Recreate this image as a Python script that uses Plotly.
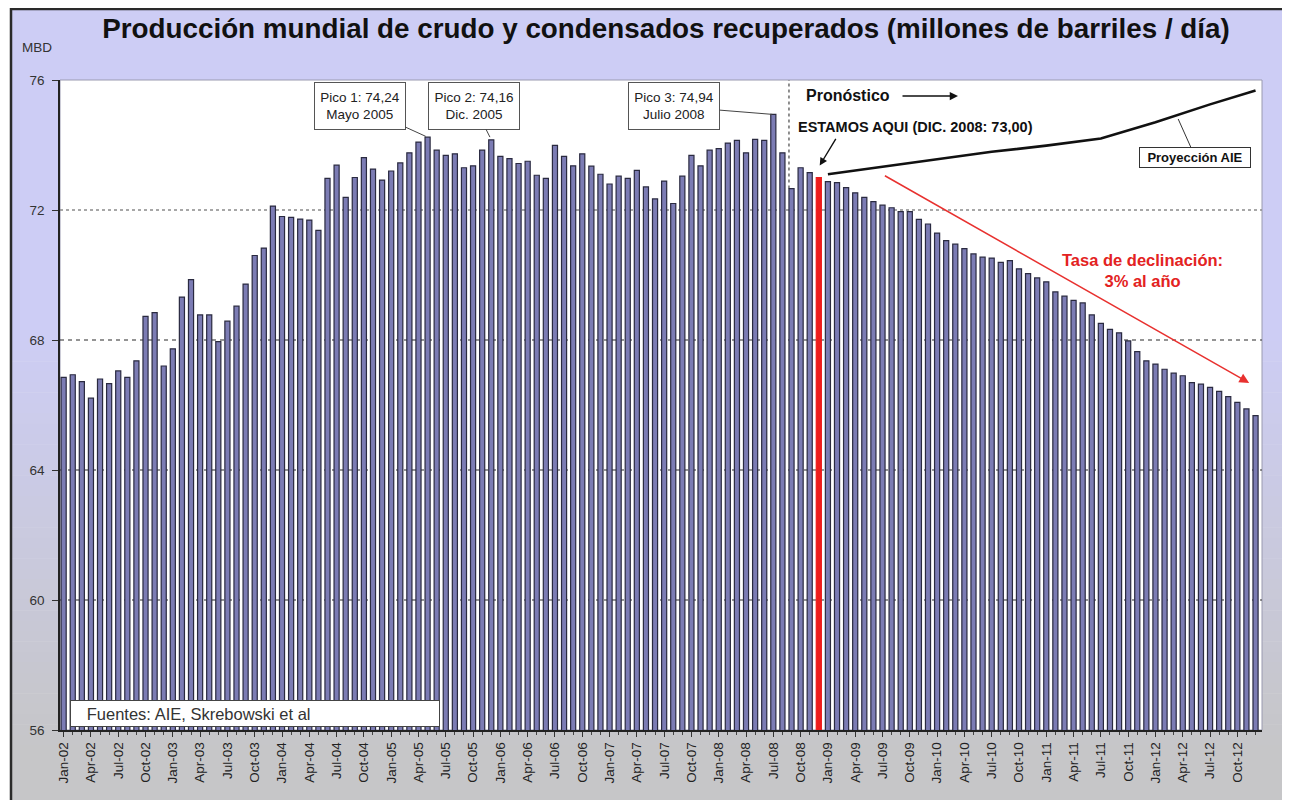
import plotly.graph_objects as go

# ---------------- data ----------------
years = ["02", "03", "04", "05", "06", "07", "08", "09", "10", "11", "12"]
tick_months = ["Jan", "Apr", "Jul", "Oct"]
tick_labels = [f"{m}-{y}" for y in years for m in tick_months]

production = [
    # 2002
    66.85, 66.93, 66.72, 66.21, 66.80, 66.66, 67.05, 66.85, 67.36, 68.73, 68.84, 67.20,
    # 2003
    67.73, 69.32, 69.86, 68.77, 68.77, 67.95, 68.58, 69.04, 69.72, 70.60, 70.83, 72.12,
    # 2004
    71.80, 71.77, 71.72, 71.69, 71.37, 72.97, 73.38, 72.39, 73.00, 73.61, 73.26, 72.92,
    # 2005
    73.20, 73.45, 73.76, 74.09, 74.24, 73.84, 73.68, 73.73, 73.30, 73.36, 73.84, 74.16,
    # 2006
    73.65, 73.58, 73.43, 73.50, 73.07, 72.97, 73.99, 73.65, 73.36, 73.73, 73.35, 73.10,
    # 2007
    72.80, 73.04, 72.97, 73.22, 72.71, 72.34, 72.89, 72.20, 73.04, 73.68, 73.36, 73.84,
    # 2008
    73.89, 74.06, 74.14, 73.76, 74.17, 74.14, 74.94, 73.76, 72.66, 73.30, 73.15, 73.00,
    # 2009 (pronóstico)
    72.87, 72.84, 72.69, 72.53, 72.39, 72.26, 72.15, 72.07, 71.95, 71.95, 71.71, 71.57,
    # 2010
    71.29, 71.06, 70.95, 70.81, 70.65, 70.55, 70.52, 70.39, 70.44, 70.19, 70.04, 69.91,
    # 2011
    69.79, 69.48, 69.35, 69.22, 69.14, 68.77, 68.51, 68.33, 68.22, 67.97, 67.64, 67.36,
    # 2012
    67.26, 67.10, 66.98, 66.90, 66.69, 66.64, 66.54, 66.42, 66.26, 66.08, 65.88, 65.67,
]

# IEA projection line (month index, value)
proj_month = [84, 90, 96, 102, 108, 114, 120, 126, 131]
proj_value = [73.10, 73.33, 73.55, 73.79, 73.98, 74.20, 74.70, 75.25, 75.68]

# decline-rate arrow (month index, value)
decline_start = (90.1, 73.08)
decline_end = (130.3, 66.68)

y_ticks = [56, 60, 64, 68, 72, 76]
peak1_idx, peak2_idx, peak3_idx, now_idx = 40, 47, 78, 83
forecast_boundary = 79.72

# ---------------- layout helpers ----------------
W, H = 1290, 800
OFF = 8                      # page body margin
ML, MT = 52, 72
PW, PH = 1202, 650
MR, MB = W - ML - PW, H - MT - PH


def px(xs):
    """screen x pixel -> paper x"""
    return (xs - OFF - ML) / PW


def py(ys):
    """screen y pixel -> paper y"""
    return (MT + PH - (ys - OFF)) / PH


FONT = "Liberation Sans, Arial, sans-serif"

n = len(production)
x_idx = list(range(n))
fill_colors = ["#ee1c1c" if i == now_idx else "#7c7cb4" for i in x_idx]
line_colors = ["#ee1c1c" if i == now_idx else "#2a2a40" for i in x_idx]

fig = go.Figure()
fig.add_trace(go.Bar(
    x=x_idx, y=production, width=0.56,
    marker=dict(color=fill_colors, line=dict(color=line_colors, width=1.2)),
    hoverinfo="y", showlegend=False,
))
fig.add_trace(go.Scatter(
    x=proj_month, y=proj_value, mode="lines",
    line=dict(color="#111111", width=2.6), showlegend=False, hoverinfo="skip",
))

shapes = []
# background gradient (lavender -> gray)
top_c = (205, 205, 245)
bot_c = (198, 198, 200)
g0, g1 = 330, 745
nb = 40
FX0, FX1 = px(11), px(1284)
shapes.append(dict(type="rect", xref="paper", yref="paper", x0=FX0, x1=FX1, y0=py(8), y1=py(g0),
                   fillcolor="rgb(%d,%d,%d)" % top_c, line=dict(width=0), layer="below"))
for k in range(nb):
    ya = g0 + (g1 - g0) * k / nb
    yb = g0 + (g1 - g0) * (k + 1) / nb + 0.6
    t = (k + 0.5) / nb
    c = tuple(round(top_c[j] + (bot_c[j] - top_c[j]) * t) for j in range(3))
    shapes.append(dict(type="rect", xref="paper", yref="paper", x0=FX0, x1=FX1, y0=py(ya), y1=py(yb),
                       fillcolor="rgb(%d,%d,%d)" % c, line=dict(width=0), layer="below"))
shapes.append(dict(type="rect", xref="paper", yref="paper", x0=FX0, x1=FX1, y0=py(g1), y1=py(815),
                   fillcolor="rgb(%d,%d,%d)" % bot_c, line=dict(width=0), layer="below"))
# outer frame
shapes.append(dict(type="rect", xref="paper", yref="paper", x0=FX0, x1=FX1, y0=py(9), y1=py(820),
                   fillcolor="rgba(0,0,0,0)", line=dict(color="#2a2a2a", width=2.5), layer="below"))
# white plot area
shapes.append(dict(type="rect", xref="paper", yref="paper", x0=0, x1=1, y0=0, y1=1,
                   fillcolor="white", line=dict(color="#9a9ab0", width=1), layer="below"))
# horizontal gridlines
for v in y_ticks[1:-1]:
    if v == 72:
        ln = dict(color="#8a8a8a", width=1.4, dash="dot")
    else:
        ln = dict(color="#2a2a2a", width=1.1, dash="4px,4px")
    shapes.append(dict(type="line", xref="paper", yref="y", x0=0, x1=1, y0=v, y1=v, line=ln, layer="below"))
# forecast boundary
shapes.append(dict(type="line", xref="x", yref="y", x0=forecast_boundary, x1=forecast_boundary,
                   y0=production[80], y1=y_ticks[-1], line=dict(color="#555555", width=1.3, dash="dot"),
                   layer="below"))

annotations = []
# MBD
annotations.append(dict(text="MBD", xref="paper", yref="paper", x=px(37), y=py(47),
                        xanchor="center", yanchor="middle", showarrow=False,
                        font=dict(family=FONT, size=13.5, color="#333333")))

# Peaks
box = dict(bgcolor="white", bordercolor="#555555", borderwidth=1, borderpad=2, width=86, height=42,
           showarrow=True, arrowhead=0, arrowwidth=1, arrowcolor="#444444", xref="x", yref="y",
           font=dict(family=FONT, size=13.5, color="#222222"))
annotations.append(dict(box, text="Pico 1: 74,24<br>Mayo 2005", x=peak1_idx, y=production[peak1_idx],
                        ax=-68, ay=-31, standoff=2))
annotations.append(dict(box, text="Pico 2: 74,16<br>Dic. 2005", x=peak2_idx, y=production[peak2_idx],
                        ax=-17, ay=-34, standoff=3))
annotations.append(dict(box, text="Pico 3: 74,94<br>Julio 2008", x=peak3_idx, y=production[peak3_idx],
                        ax=-99, ay=-8, standoff=1))

# Pronóstico
annotations.append(dict(text="<b>Pronóstico</b>", xref="paper", yref="paper", x=px(804), y=py(96),
                        xanchor="left", yanchor="middle", showarrow=False,
                        font=dict(family=FONT, size=16, color="#111111")))
annotations.append(dict(text="", xref="paper", yref="paper", x=px(958), y=py(96), ax=-57, ay=0,
                        showarrow=True, arrowhead=2, arrowsize=1.1, arrowwidth=1.5, arrowcolor="#111111"))

# ESTAMOS AQUI
annotations.append(dict(text="<b>ESTAMOS AQUI (DIC. 2008: 73,00)</b>", xref="paper", yref="paper",
                        x=px(796), y=py(127), xanchor="left", yanchor="middle", showarrow=False,
                        font=dict(family=FONT, size=14.5, color="#111111")))
annotations.append(dict(text="", xref="x", yref="y", x=now_idx + 0.1, y=production[now_idx] + 0.37,
                        ax=17, ay=-28, showarrow=True, arrowhead=2, arrowsize=1.1, arrowwidth=1.4,
                        arrowcolor="#111111"))

# Proyección AIE
annotations.append(dict(text="<b>Proyección AIE</b>", xref="x", yref="y", x=122.5, y=74.8, ax=17, ay=38,
                        showarrow=True, arrowhead=0, arrowwidth=1, arrowcolor="#333333",
                        bgcolor="white", bordercolor="#333333", borderwidth=1, borderpad=2, width=106,
                        font=dict(family=FONT, size=13, color="#111111")))

# decline arrow
annotations.append(dict(text="", xref="x", yref="y", axref="x", ayref="y",
                        x=decline_end[0], y=decline_end[1], ax=decline_start[0], ay=decline_start[1],
                        showarrow=True, arrowhead=2, arrowsize=1.3, arrowwidth=1.5, arrowcolor="#e8312f"))
annotations.append(dict(text="<b>Tasa de declinación:<br>3% al año</b>", xref="paper", yref="paper",
                        x=px(1142), y=py(270), xanchor="center", yanchor="middle", showarrow=False,
                        font=dict(family=FONT, size=16.5, color="#e32222")))

# Fuentes
annotations.append(dict(text="&nbsp;&nbsp;&nbsp;Fuentes: AIE, Skrebowski et al", xref="paper", yref="paper",
                        x=px(70), y=py(727), xanchor="left", yanchor="bottom", showarrow=False,
                        align="left", width=364, height=21, borderpad=2,
                        bgcolor="white", bordercolor="#444444", borderwidth=1,
                        font=dict(family=FONT, size=16.5, color="#333333")))

fig.update_layout(
    width=W, height=H,
    margin=dict(l=ML, r=MR, t=MT, b=MB),
    paper_bgcolor="white",
    plot_bgcolor="white",
    title=dict(text="<b>Producción mundial de crudo y condensados recuperados (millones de barriles / día)</b>",
               xref="paper", yref="container", x=px(666), y=1 - (28 - OFF) / H, xanchor="center",
               yanchor="middle", font=dict(family=FONT, size=27.8, color="#111111")),
    shapes=shapes,
    annotations=annotations,
    showlegend=False,
)
fig.update_xaxes(
    range=[-0.4, n - 1 + 0.71], tickmode="array", tickvals=list(range(0, n, 3)), ticktext=tick_labels,
    tickangle=-90, ticks="outside", ticklen=5, tickcolor="#333333",
    tickfont=dict(family=FONT, size=13.5, color="#222222"),
    showline=True, linecolor="#222222", linewidth=1.5, showgrid=False, zeroline=False,
    minor=dict(tickmode="linear", tick0=0, dtick=1, ticks="outside", ticklen=3, tickcolor="#444444"),
)
fig.update_yaxes(
    range=[y_ticks[0], y_ticks[-1]], tickmode="array", tickvals=y_ticks, ticks="outside", ticklen=6,
    ticklabelstandoff=5,
    tickcolor="#333333", tickfont=dict(family=FONT, size=13.5, color="#333333"),
    showline=True, linecolor="#222222", linewidth=1.5, showgrid=False, zeroline=False,
)

fig.write_html("out.html")
